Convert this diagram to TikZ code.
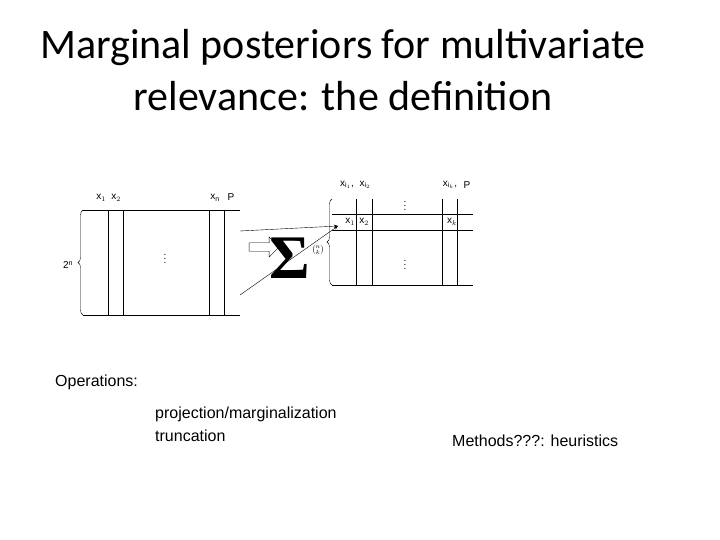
\documentclass[tikz,border=0pt]{standalone}
\usepackage{amsmath}
\usepackage{fontspec}
\setmainfont{Liberation Sans}
\newfontfamily\titlefont{Carlito}
\newfontfamily\sigfont{Liberation Serif}
\usetikzlibrary{decorations.pathreplacing,arrows.meta,shapes.arrows}
\begin{document}
\begin{tikzpicture}[x=1pt,y=-1pt,
  lbl/.style={inner sep=0,font=\fontsize{10}{11}\selectfont},
  tl/.style={line width=0.8pt},
  txt/.style={inner sep=0,anchor=west,font=\fontsize{16}{19}\selectfont}]
\useasboundingbox (0,0) rectangle (720,540);
\node[inner sep=0,align=center,font=\titlefont\fontsize{42}{52}\selectfont] (title) at (343,70) {Marginal posteriors for multivariate\\relevance: the definition};
% left table
\draw[tl] (83,210) -- (240,210) (83,315) -- (240,315);
\foreach \x in {108,123,209,224} \draw[tl] (\x,210) -- (\x,315);
\draw[decorate,decoration={brace,amplitude=5pt}] (83,315) -- (83,210);
\node[lbl] (twon) at (68,265) {2$^{\mathrm{n}}$};
\node[lbl] (x1) at (101,198) {x$_1$};
\node[lbl] (x2) at (116,198) {x$_2$};
\node[lbl] (xn) at (215,198) {x$_{\mathrm n}$};
\node[lbl] (P1) at (231,197) {P};
\node[lbl] (d1) at (165,256) {$\vdots$};
% right table
\draw[tl] (332,214) -- (473,214) (332,230) -- (473,230) (332,285) -- (473,285);
\foreach \x in {356,372,442,457} \draw[tl] (\x,199) -- (\x,285);
\draw[decorate,decoration={brace,amplitude=5pt}] (332,285) -- (332,199);
\node[lbl] (xi1) at (347,185) {x$_{\mathrm{i}_1}$,};
\node[lbl] (xi2) at (365,185) {x$_{\mathrm{i}_2}$};
\node[lbl] (xik) at (450,185) {x$_{\mathrm{i}_k}$,};
\node[lbl] (P2) at (467,185) {P};
\node[lbl] (r1) at (350,222) {x$_1$};
\node[lbl] (r2) at (364,222) {x$_2$};
\node[lbl] (rk) at (452,222) {x$_k$};
\node[lbl] (d2) at (405,203) {$\vdots$};
\node[lbl] (d3) at (405,262) {$\vdots$};
% middle
\coordinate (s1) at (240,231);
\coordinate (s2) at (240,295);
\coordinate (tgt) at (338,226);
\draw[-{Stealth[length=4pt]}] (s1) -- (tgt);
\draw[-{Stealth[length=4pt]}] (s2) -- (tgt);
\node[single arrow,draw,minimum height=30pt,minimum width=20pt,single arrow head extend=3pt,inner sep=2pt] (harrow) at (262,247) {};
\node[inner sep=0,font=\sigfont\bfseries\fontsize{62}{62}\selectfont] (sigma) at (290,258) {Σ};
\node[lbl,font=\fontsize{8}{9}\selectfont] (binom) at (318,250) {$\binom{n}{k}$};
% text
\node[txt] (ops) at (55,382) {Operations:};
\node[txt] (proj) at (155,414) {projection/marginalization};
\node[txt] (trunc) at (155,436) {truncation};
\node[txt] (meth) at (452,441) {Methods???: heuristics};
\end{tikzpicture}
\end{document}
